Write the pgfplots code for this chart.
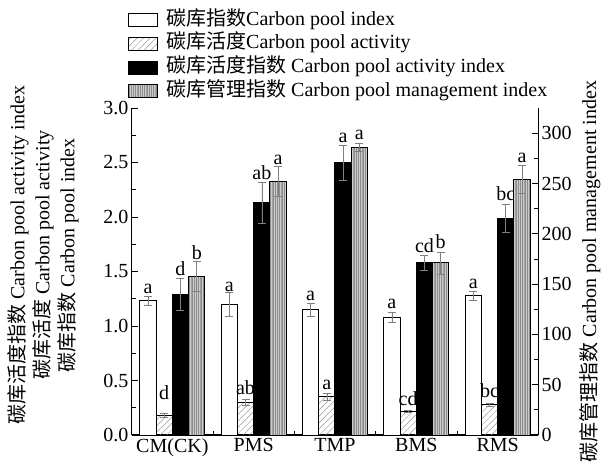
\documentclass[border=0pt]{standalone}
\usepackage{pgfplots}
\pgfplotsset{compat=1.18}
\usepackage{pgfplotstable}
\usetikzlibrary{patterns.meta}
\usepackage{fontspec}
\setmainfont{Liberation Serif}
\newfontfamily\cjk{Noto Sans CJK SC}
\newcommand{\zh}[1]{{\cjk #1}}
\newcommand{\bigf}{\fontsize{20bp}{25bp}\selectfont}

\pgfplotstableread{
x y err ly lab
1 1.23 0.04 1.29 a
2 1.20 0.11 1.31 a
3 1.15 0.06 1.23 a
4 1.08 0.05 1.16 a
5 1.28 0.04 1.34 a
}\cpi
\pgfplotstableread{
x y err ly lab
1 0.18 0.02 0.32 d
2 0.30 0.03 0.37 ab
3 0.35 0.03 0.41 a
4 0.22 0.01 0.27 cd
5 0.28 0.015 0.34 bc
}\cpa
\pgfplotstableread{
x y err ly lab
1 1.29 0.15 1.46 d
2 2.13 0.19 2.34 ab
3 2.50 0.16 2.68 a
4 1.58 0.07 1.67 cd
5 1.99 0.13 2.15 bc
}\cpai
\pgfplotstableread{
x y err ly lab
1 158 15 174 b
2 252 15 268 a
3 286 4 293 a
4 171 11 185 b
5 254 14 270 a
}\cpmi

\pgfplotsset{
  boxlegend/.style={legend image code/.code={\draw[##1] (0bp,-6.5bp) rectangle (29bp,6.5bp);}},
  errstyle/.style={error bars/.cd, y dir=both, y explicit,
     error bar style={gray, line width=0.6bp},
     error mark options={rotate=90, mark size=4bp, line width=0.6bp, gray}},
  labstyle/.style={draw=none, fill=none, forget plot, nodes near coords,
     point meta=explicit symbolic,
     nodes near coords style={anchor=south, inner sep=0pt, font=\bigf}},
  cpistyle/.style={draw=black, line width=1bp, fill=white},
  cpastyle/.style={draw=black, line width=1bp, pattern={Lines[angle=45, distance=4.5bp, line width=0.5bp]}, pattern color=gray!80},
  cpaistyle/.style={draw=black, line width=1bp, fill=black},
  cpmistyle/.style={draw=black, line width=1bp, fill=gray!40,
     postaction={pattern={Lines[angle=90, distance=1.8bp, line width=0.6bp]}, pattern color=gray!90}},
  common/.style={scale only axis, width=406.6bp, height=327bp,
     xmin=0.5, xmax=5.5, ymin=0, ybar, bar width=0.2,
     tick align=inside, major tick length=6bp, minor tick length=4bp,
     axis line style={line width=1.2bp}, every tick/.style={black, line width=0.8bp},
     tick label style={font=\bigf}, label style={font=\bigf}},
}

\begin{document}
\begin{tikzpicture}
\begin{axis}[common, ymax=3,
  axis x line*=bottom, axis y line*=left,
  xtick={1,2,3,4,5},
  xticklabels={CM(CK),PMS,TMP,BMS,RMS},
  every major x tick/.append style={draw=none},
  minor xtick={1.5,2.5,3.5,4.5},
  xticklabel style={inner sep=1bp, yshift=-2bp},
  ytick={0,0.5,...,3.0}, minor ytick={0.25,0.75,...,2.75},
  yticklabel style={inner sep=1bp, xshift=-2bp, /pgf/number format/.cd, fixed, fixed zerofill, precision=1, assume math mode=true},
  ylabel={\zh{碳库活度指数} Carbon pool activity index\\\zh{碳库活度} Carbon pool activity\\\zh{碳库指数} Carbon pool index},
  ylabel style={align=center, at={(axis description cs:-0.122,0.55)}, anchor=south},
  legend style={at={(-0.0091,1.2966)}, anchor=north west, draw=none, fill=none,
     inner sep=0pt, font=\bigf, column sep=8bp, row sep=5.7bp,
     nodes={inner sep=0pt, text height=14bp, text depth=4bp}},
  legend cell align=left,
]
\addplot[cpistyle, boxlegend, bar shift=-0.3, errstyle] table[x=x, y=y, y error=err] {\cpi};
\addlegendentry{\zh{碳库指数}Carbon pool index}
\addplot[cpastyle, boxlegend, bar shift=-0.1, errstyle] table[x=x, y=y, y error=err] {\cpa};
\addlegendentry{\zh{碳库活度}Carbon pool activity}
\addplot[cpaistyle, boxlegend, bar shift=0.1, errstyle] table[x=x, y=y, y error=err] {\cpai};
\addlegendentry{\zh{碳库活度指数} Carbon pool activity index}
\addlegendimage{cpmistyle, boxlegend}
\addlegendentry{\zh{碳库管理指数} Carbon pool management index}
\addplot[labstyle, bar shift=-0.3] table[x=x, y=ly, meta=lab] {\cpi};
\addplot[labstyle, bar shift=-0.1] table[x=x, y=ly, meta=lab] {\cpa};
\addplot[labstyle, bar shift=0.1] table[x=x, y=ly, meta=lab] {\cpai};
\end{axis}
\begin{axis}[common, ymax=325,
  axis x line=none, axis y line*=right,
  ytick={0,50,...,300}, minor ytick={25,75,...,275},
  yticklabel style={inner sep=1bp, xshift=2bp, /pgf/number format/.cd, assume math mode=true},
  ylabel={\zh{碳库管理指数} Carbon pool management index},
  ylabel style={at={(axis description cs:1.10,0.50)}, anchor=north, inner sep=0pt},
]
\addplot[cpmistyle, bar shift=0.3, errstyle] table[x=x, y=y, y error=err] {\cpmi};
\addplot[labstyle, bar shift=0.3] table[x=x, y=ly, meta=lab] {\cpmi};
\end{axis}
\pgfresetboundingbox
\useasboundingbox (-131.7bp,-33bp) rectangle (474.3bp,435bp);
\end{tikzpicture}
\end{document}
